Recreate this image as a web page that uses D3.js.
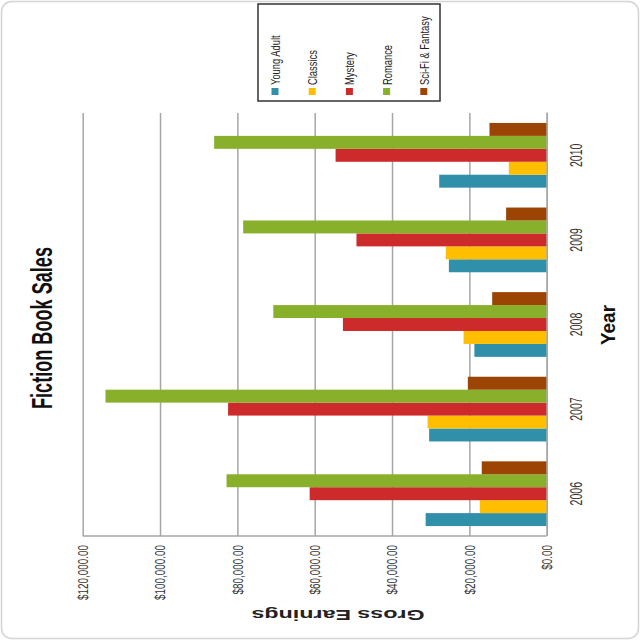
<!DOCTYPE html>
<html>
<head>
<meta charset="utf-8">
<script src="https://cdn.jsdelivr.net/npm/d3@7"></script>
<style>
  html, body { margin: 0; padding: 0; background: #ffffff; }
  svg { display: block; font-family: "Liberation Sans", Arial, sans-serif; }
</style>
</head>
<body>
<svg id="chart" width="640" height="640"></svg>
<script>
// ---- data ----
const years = ["2006", "2007", "2008", "2009", "2010"];
const genres = ["Young Adult", "Classics", "Mystery", "Romance", "Sci-Fi & Fantasy"];
const youngAdult = [31300, 30400, 18700, 25300, 27800];
const classics   = [17300, 30800, 21500, 26100, 9800];
const mystery    = [61300, 82400, 52700, 49200, 54600];
const romance    = [82800, 114100, 70700, 78500, 86000];
const sciFi      = [16800, 20400, 14100, 10500, 14800];
const valueTicks = [0, 20000, 40000, 60000, 80000, 100000, 120000];
const colors = ["#3090aa", "#ffbf00", "#cc2a2b", "#88b02a", "#9c4403"];

(function () {
const seriesValues = [youngAdult, classics, mystery, romance, sciFi];
const table = years.map((yr, i) => ({
  year: yr,
  values: genres.map((gn, j) => ({ genre: gn, value: seriesValues[j][i], color: colors[j] }))
}));

// squeeze a text along its own direction by a factor
function condense(sel, factor) {
  sel.each(function () {
    const w = this.getComputedTextLength();
    d3.select(this).attr("textLength", w * factor).attr("lengthAdjust", "spacingAndGlyphs");
  });
}

const svg = d3.select("#chart");

// outer rounded frame
svg.append("rect")
  .attr("x", 1.5).attr("y", 1.5).attr("width", 637).attr("height", 637)
  .attr("rx", 10).attr("fill", "#ffffff").attr("stroke", "#d4d4d4").attr("stroke-width", 1.5);

// the whole chart is drawn as an upright column chart, then turned a quarter turn
const g = svg.append("g").attr("transform", "translate(0,640) rotate(-90)");

const pLeft = 104, pRight = 527, pTop = 82.7, pBottom = 546.7;

const x = d3.scaleBand().domain(years).range([pLeft, pRight])
  .paddingInner(0.235).paddingOuter(0.1175);
const xInner = d3.scaleBand().domain(genres).range([0, x.bandwidth()]).padding(0);
const y = d3.scaleLinear().domain([0, 120000]).range([pBottom, pTop]);

// value axis with gridlines
const yAxis = g.append("g").attr("transform", `translate(${pLeft},0)`)
  .call(d3.axisLeft(y).tickValues(valueTicks).tickSize(-(pRight - pLeft)).tickPadding(9)
    .tickFormat(d3.format("$,.2f")));
yAxis.select(".domain").remove();
yAxis.selectAll(".tick line").attr("stroke", "#a6a6a6").attr("stroke-width", 1.5);
yAxis.selectAll(".tick text")
  .attr("font-size", 15).attr("fill", "#333")
  .call(condense, 0.66);

// vertical axis line
g.append("line").attr("x1", pLeft).attr("x2", pLeft).attr("y1", pTop).attr("y2", pBottom)
  .attr("stroke", "#a6a6a6").attr("stroke-width", 1.5);

// bars
const groups = g.selectAll("g.grp").data(table).join("g")
  .attr("class", "grp").attr("transform", d => `translate(${x(d.year)},0)`);
groups.selectAll("rect").data(d => d.values).join("rect")
  .attr("x", d => xInner(d.genre))
  .attr("width", xInner.bandwidth())
  .attr("y", d => y(d.value))
  .attr("height", d => y(0) - y(d.value))
  .attr("fill", d => d.color);

// category axis
const xAxis = g.append("g").attr("transform", `translate(0,${pBottom})`)
  .call(d3.axisBottom(x).tickSize(0).tickPadding(0));
xAxis.select(".domain").attr("stroke", "#a6a6a6").attr("stroke-width", 1.5);
xAxis.selectAll(".tick text")
  .attr("y", 35).attr("dy", 0)
  .attr("font-size", 16).attr("fill", "#333")
  .call(condense, 0.66);

// title
g.append("text").attr("x", 312).attr("y", 52).attr("text-anchor", "middle")
  .attr("font-size", 29).attr("font-weight", "bold").attr("fill", "#111")
  .attr("textLength", 162).attr("lengthAdjust", "spacingAndGlyphs")
  .text("Fiction Book Sales");

// axis titles
g.append("text").attr("x", 315).attr("y", 615).attr("text-anchor", "middle")
  .attr("font-size", 20).attr("font-weight", "bold").attr("fill", "#111")
  .attr("textLength", 40).attr("lengthAdjust", "spacingAndGlyphs")
  .text("Year");

g.append("text").attr("transform", "translate(30,338) rotate(-90)")
  .attr("text-anchor", "middle")
  .attr("font-size", 15).attr("font-weight", "bold").attr("fill", "#222")
  .attr("textLength", 173).attr("lengthAdjust", "spacingAndGlyphs")
  .text("Gross Earnings");

// legend
const legend = g.append("g");
legend.append("rect").attr("x", 539).attr("y", 258).attr("width", 97).attr("height", 182)
  .attr("fill", "#fff").attr("stroke", "#333").attr("stroke-width", 1.5);
const items = legend.selectAll("g.item").data(genres).join("g")
  .attr("class", "item")
  .attr("transform", (d, i) => `translate(0,${275 + i * 37.2})`);
items.append("rect").attr("x", 545).attr("y", -3.5).attr("width", 7).attr("height", 7)
  .attr("fill", (d, i) => colors[i]);
items.append("text").attr("x", 555).attr("y", 5)
  .attr("font-size", 13).attr("fill", "#222")
  .text(d => d)
  .call(condense, 0.72);
})();
</script>
</body>
</html>
